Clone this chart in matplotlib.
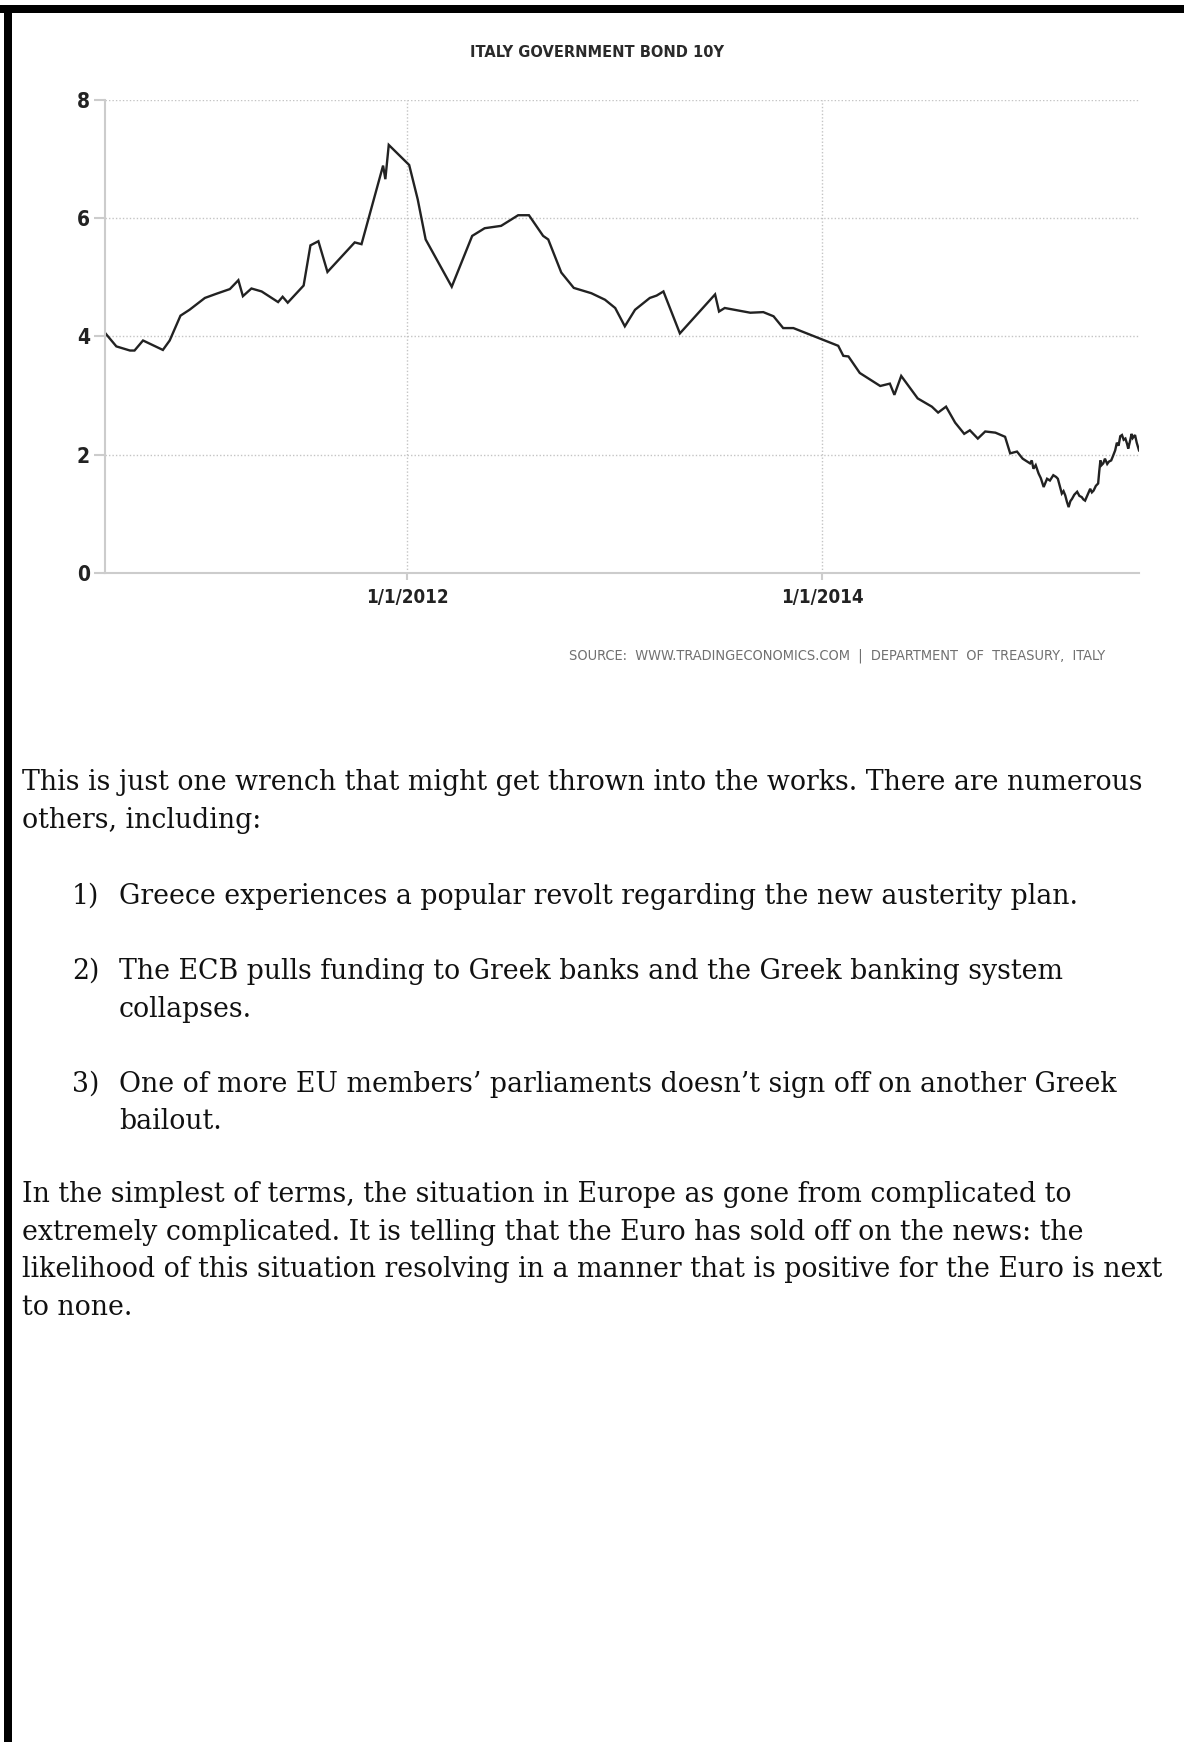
import matplotlib
matplotlib.use('Agg')
import matplotlib.pyplot as plt
from matplotlib.patches import Rectangle
import pandas as pd

# Italy 10Y yield (date, percent)
dates = [
    '2010-07-17', '2010-08-06', '2010-08-30', '2010-09-07', '2010-09-22', '2010-10-27',
    '2010-11-08', '2010-11-27', '2010-12-13',
    '2011-01-09', '2011-01-29', '2011-02-22', '2011-03-09', '2011-03-17', '2011-04-01',
    '2011-04-19', '2011-05-18', '2011-05-26', '2011-06-04', '2011-07-02', '2011-07-14',
    '2011-07-28', '2011-08-13', '2011-09-30', '2011-10-12', '2011-11-19', '2011-11-23',
    '2011-11-29',
    '2012-01-04', '2012-01-19', '2012-02-02', '2012-03-19', '2012-04-24', '2012-05-16',
    '2012-06-14', '2012-07-14', '2012-08-02', '2012-08-27', '2012-09-05', '2012-09-28',
    '2012-10-20', '2012-11-20', '2012-12-14',
    '2013-01-01', '2013-01-18', '2013-02-05', '2013-03-03', '2013-03-15', '2013-03-27',
    '2013-04-25', '2013-06-26', '2013-07-03', '2013-07-13', '2013-08-27', '2013-09-19',
    '2013-10-07', '2013-10-24', '2013-11-11', '2013-12-31',
    '2014-01-29', '2014-02-07', '2014-02-16', '2014-03-08', '2014-04-13', '2014-04-30',
    '2014-05-08', '2014-05-20', '2014-06-18', '2014-07-13', '2014-07-24', '2014-08-07',
    '2014-08-23', '2014-09-08', '2014-09-18', '2014-10-02', '2014-10-15', '2014-11-02',
    '2014-11-19', '2014-11-28', '2014-12-10', '2014-12-20',
    '2015-01-02', '2015-01-05', '2015-01-08', '2015-01-12', '2015-01-17', '2015-01-21',
    '2015-01-26', '2015-02-01', '2015-02-06', '2015-02-12', '2015-02-17', '2015-02-20',
    '2015-02-27', '2015-03-02', '2015-03-05', '2015-03-08', '2015-03-11', '2015-03-14',
    '2015-03-17', '2015-03-21', '2015-03-26', '2015-03-30', '2015-04-03', '2015-04-06',
    '2015-04-09', '2015-04-14', '2015-04-18', '2015-04-21', '2015-04-24', '2015-04-28',
    '2015-05-02', '2015-05-04', '2015-05-06', '2015-05-08', '2015-05-11', '2015-05-14',
    '2015-05-18', '2015-05-21', '2015-05-25', '2015-05-28', '2015-06-01', '2015-06-04',
    '2015-06-07', '2015-06-10', '2015-06-13', '2015-06-16', '2015-06-19', '2015-06-22',
    '2015-06-24', '2015-06-27', '2015-06-30', '2015-07-02', '2015-07-06', '2015-07-09',
    '2015-07-13',
]
yields = [
    4.06, 3.83, 3.76, 3.76, 3.93, 3.77,
    3.93, 4.35, 4.45,
    4.65, 4.72, 4.80, 4.95, 4.68, 4.81,
    4.76, 4.58, 4.67, 4.57, 4.86, 5.54,
    5.61, 5.09, 5.59, 5.56, 6.89, 6.66,
    7.24,
    6.90, 6.32, 5.64, 4.84, 5.70, 5.83,
    5.87, 6.05, 6.05, 5.70, 5.64, 5.08,
    4.82, 4.73, 4.62,
    4.48, 4.17, 4.45, 4.65, 4.69, 4.76,
    4.05, 4.71, 4.42, 4.48, 4.40, 4.41,
    4.34, 4.14, 4.14, 3.95,
    3.84, 3.67, 3.66, 3.38, 3.16, 3.20,
    3.01, 3.33, 2.95, 2.81, 2.71, 2.81,
    2.54, 2.35, 2.41, 2.27, 2.39, 2.37,
    2.30, 2.02, 2.05, 1.93,
    1.85, 1.90, 1.76, 1.82, 1.68, 1.60,
    1.45, 1.59, 1.56, 1.65, 1.62, 1.59,
    1.34, 1.38, 1.31, 1.20, 1.11, 1.21,
    1.25, 1.32, 1.37, 1.30, 1.28, 1.24,
    1.22, 1.33, 1.42, 1.36, 1.39, 1.47,
    1.51, 1.72, 1.90, 1.82, 1.85, 1.93,
    1.84, 1.88, 1.90, 1.97, 2.07, 2.20,
    2.15, 2.31, 2.33, 2.25, 2.27, 2.18,
    2.10, 2.22, 2.35, 2.28, 2.33, 2.20,
    2.07,
]
xtick_dates = ['2012-01-01', '2014-01-01']
xtick_labels = ['1/1/2012', '1/1/2014']
yticks = [0, 2, 4, 6, 8]

title = 'ITALY GOVERNMENT BOND 10Y'
source = 'SOURCE:  WWW.TRADINGECONOMICS.COM  |  DEPARTMENT  OF  TREASURY,  ITALY'

intro = ['This is just one wrench that might get thrown into the works. There are numerous',
         'others, including:']
items = [
    ['Greece experiences a popular revolt regarding the new austerity plan.'],
    ['The ECB pulls funding to Greek banks and the Greek banking system', 'collapses.'],
    ['One of more EU members\u2019 parliaments doesn\u2019t sign off on another Greek', 'bailout.'],
]
outro = ['In the simplest of terms, the situation in Europe as gone from complicated to',
         'extremely complicated. It is telling that the Euro has sold off on the news: the',
         'likelihood of this situation resolving in a manner that is positive for the Euro is next',
         'to none.']

W, H = 1184, 1742
def fx(x):
    return x / W
def fy(y):
    return 1 - y / H

narrow = ['DejaVu Sans']
grey = '#cccccc'

fig = plt.figure(figsize=(W / 100, H / 100), dpi=100)
fig.patch.set_facecolor('white')

# black frame bits (top and left)
fig.add_artist(Rectangle((0, fy(13)), 1, 8 / H, transform=fig.transFigure,
                         facecolor='black', edgecolor='none'))
fig.add_artist(Rectangle((fx(4), 0), 8 / W, fy(5), transform=fig.transFigure,
                         facecolor='black', edgecolor='none'))

ax = fig.add_axes([fx(105), fy(572.7), (1139 - 105) / W, (572.7 - 100) / H])
x = pd.to_datetime(dates)
ax.plot(x, yields, color='#222222', lw=1.7, solid_joinstyle='miter')

ax.set_xlim(pd.Timestamp('2010-07-17'), pd.Timestamp('2015-07-13'))
ax.set_ylim(0, 8)
ax.set_yticks(yticks)
ax.set_yticklabels([str(v) for v in yticks])
ax.set_xticks(pd.to_datetime(xtick_dates))
ax.set_xticklabels(xtick_labels)

for s in ['top', 'right']:
    ax.spines[s].set_visible(False)
for s in ['left', 'bottom']:
    ax.spines[s].set_color(grey)
    ax.spines[s].set_linewidth(1.5)
ax.grid(True, color='#c4c4c4', linestyle=(0, (1, 1.5)), linewidth=1)
ax.set_axisbelow(True)
ax.tick_params(axis='y', length=8, width=1.5, color=grey, pad=3,
               labelsize=15, labelcolor='#222222')
ax.tick_params(axis='x', length=5, width=1.5, color=grey, pad=6,
               labelsize=13.5, labelcolor='#222222')
for lab in ax.get_xticklabels() + ax.get_yticklabels():
    lab.set_family(narrow)
    lab.set_fontstretch('condensed')
    lab.set_fontweight('bold')

t_title = fig.text(fx(596.5), fy(52.5), title, ha='center', va='center',
                   family=narrow, fontstretch='condensed', fontweight='bold',
                   fontsize=17, color='#2a2a2a')
t_src = fig.text(fx(569), fy(656), source, ha='left', va='center',
                 family=narrow, fontstretch='condensed', fontsize=12, color='#707070')

# body text
serif = ['DejaVu Serif']
body_kw = dict(family=serif, fontsize=18, color='#111111', va='baseline')
body = []
body.append(fig.text(fx(22), fy(790), intro[0], ha='left', **body_kw))
body.append(fig.text(fx(22), fy(828), intro[1], ha='left', **body_kw))
item_y = [[904], [979, 1017], [1092, 1129]]
for i, (lines, ys) in enumerate(zip(items, item_y)):
    body.append(fig.text(fx(72), fy(ys[0]), '%d)' % (i + 1), ha='left', **body_kw))
    for ln, yy in zip(lines, ys):
        body.append(fig.text(fx(119), fy(yy), ln, ha='left', **body_kw))
for ln, yy in zip(outro, [1202, 1240, 1277, 1315]):
    body.append(fig.text(fx(22), fy(yy), ln, ha='left', **body_kw))

# size the texts to the widths they take in the reference
fig.canvas.draw()
r = fig.canvas.get_renderer()
def fit(t, target):
    w = t.get_window_extent(r).width
    t.set_fontsize(t.get_fontsize() * target / w)
fit(t_title, 253)
fit(t_src, 537)
w0 = body[0].get_window_extent(r).width
scale = 1119 / w0
for t in body:
    t.set_fontsize(t.get_fontsize() * scale)

fig.savefig('out.png', dpi=100)
